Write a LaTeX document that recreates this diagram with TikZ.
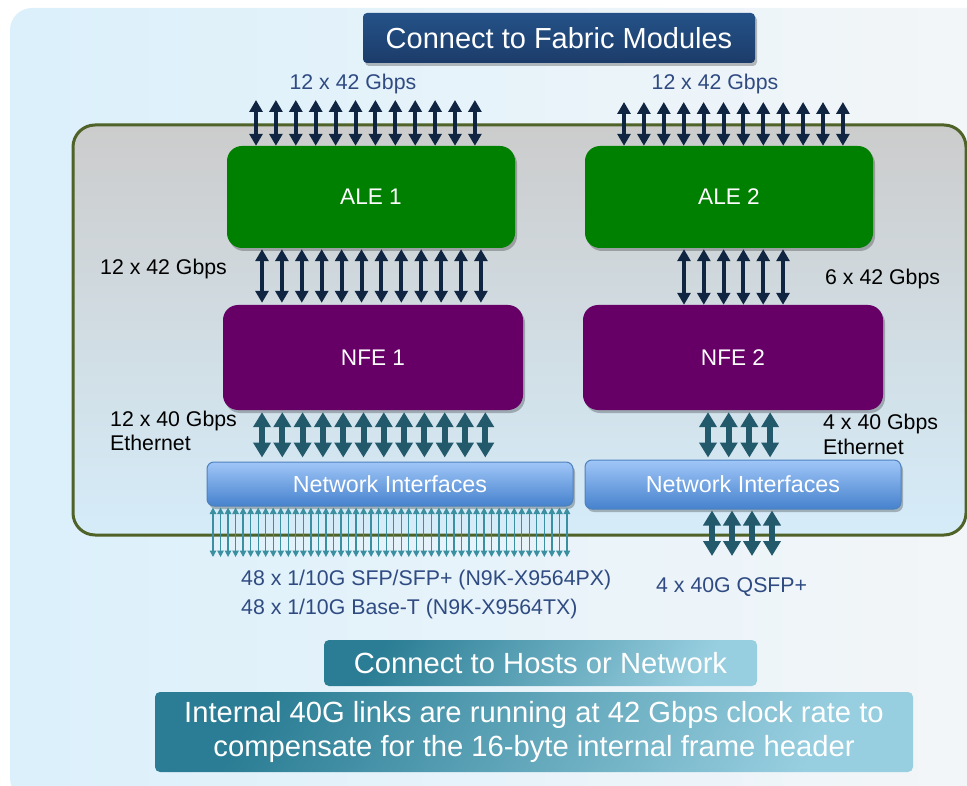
\documentclass[tikz,border=0pt]{standalone}
\usepackage{fontspec}
\setmainfont{Liberation Sans}
\usetikzlibrary{arrows.meta,shadows,calc}
\definecolor{bgleft}{RGB}{219,240,251}
\definecolor{bgright}{RGB}{244,246,248}
\definecolor{olive}{RGB}{79,98,40}
\definecolor{innertop}{RGB}{204,204,204}
\definecolor{innerbot}{RGB}{213,236,249}
\definecolor{bannertop}{RGB}{36,82,136}
\definecolor{bannerbot}{RGB}{28,60,106}
\definecolor{alegreen}{RGB}{0,128,0}
\definecolor{nfepurple}{RGB}{102,0,102}
\definecolor{nitop}{RGB}{160,198,248}
\definecolor{nibot}{RGB}{70,130,205}
\definecolor{niborder}{RGB}{79,129,189}
\definecolor{navyarrow}{RGB}{16,37,66}
\definecolor{tealarrow}{RGB}{35,90,107}
\definecolor{thinarrow}{RGB}{58,143,160}
\definecolor{labelblue}{RGB}{47,75,130}
\definecolor{tealdark}{RGB}{42,125,148}
\definecolor{teallight}{RGB}{152,207,224}
\tikzset{
  boxshadow/.style={drop shadow={shadow xshift=2pt,shadow yshift=-3pt,opacity=0.25,fill=black}},
  chip/.style={rounded corners=15pt,text=white,font=\fontsize{22.6}{26}\selectfont,boxshadow},
  alebox/.style={chip,fill=alegreen,minimum width=288pt,minimum height=102pt},
  nfebox/.style={chip,fill=nfepurple,minimum width=300pt,minimum height=105pt},
  nibox/.style={rounded corners=7pt,draw=niborder,line width=1pt,top color=nitop,bottom color=nibot,text=white,font=\fontsize{23.3}{27}\selectfont,boxshadow},
  banner/.style={rounded corners=4pt,top color=bannertop,bottom color=bannerbot,text=white,font=\fontsize{29}{34}\selectfont,boxshadow},
  tealbox/.style={rounded corners=5pt,left color=tealdark,right color=teallight,shading angle=60,text=white,font=\fontsize{29.2}{34}\selectfont,align=center},
  navyarr/.style={draw=navyarrow,line width=4pt,{Triangle[width=13pt,length=12pt]}-{Triangle[width=13pt,length=12pt]}},
  tealarr/.style={draw=tealarrow,line width=6pt,{Triangle[width=17pt,length=15pt]}-{Triangle[width=17pt,length=15pt]}},
  thinarr/.style={draw=thinarrow,line width=1.3pt,{Triangle[width=6.5pt,length=6.5pt]}-{Triangle[width=6.5pt,length=6.5pt]}},
  bluelabel/.style={text=labelblue,font=\fontsize{21.3}{25}\selectfont,inner sep=0pt},
  blacklabel/.style={text=black,font=\fontsize{21.3}{25}\selectfont,inner sep=0pt,align=left,anchor=west},
}
\begin{document}
\begin{tikzpicture}[x=1pt,y=-1pt]
\useasboundingbox (0,0) rectangle (967,786);
\clip (0,0) rectangle (967,786);
% background panel
\shade[left color=bgleft,right color=bgright,rounded corners=22pt] (10,8) rectangle (1000,800);
% inner module box
\draw[olive,line width=3pt,top color=innertop,bottom color=innerbot,rounded corners=22pt] (73,125) rectangle (966,535);

% banners
\node[banner,minimum width=392pt,minimum height=50pt] (fabric) at (559,38) {Connect to Fabric Modules};
\node[bluelabel] (top1) at (353,84) {12 x 42 Gbps};
\node[bluelabel] (top2) at (715,84) {12 x 42 Gbps};

% chips
\node[alebox] (ale1) at (371,197) {ALE 1};
\node[alebox] (ale2) at (729,197) {ALE 2};
\node[nfebox] (nfe1) at (373,357.5) {NFE 1};
\node[nfebox] (nfe2) at (733,357.5) {NFE 2};
\node[nibox,minimum width=366pt,minimum height=44pt] (ni1) at (390,484) {Network Interfaces};
\node[nibox,minimum width=316pt,minimum height=49pt] (ni2) at (743,484.5) {Network Interfaces};

% arrows to fabric
\foreach \i in {0,...,11}{
  \pgfmathsetmacro\xa{256+\i*19.9}
  \coordinate (fa\i) at (\xa,100);
  \draw[navyarr] (fa\i) -- (\xa,0 |- ale1.north);
  \pgfmathsetmacro\xb{624+\i*19.9}
  \coordinate (fb\i) at (\xb,102);
  \draw[navyarr] (fb\i) -- (\xb,0 |- ale2.north);
}
% ALE - NFE
\foreach \i in {0,...,11}{
  \pgfmathsetmacro\xa{262+\i*19.9}
  \draw[navyarr,shorten <=1pt,shorten >=2pt] (\xa,0 |- ale1.south) -- (\xa,0 |- nfe1.north);
}
\foreach \i in {0,...,5}{
  \pgfmathsetmacro\xa{684+\i*19.8}
  \draw[navyarr,shorten <=1pt,shorten >=0pt] (\xa,0 |- ale2.south) -- (\xa,0 |- nfe2.north);
}
% NFE - NI
\foreach \i in {0,...,11}{
  \pgfmathsetmacro\xa{262+\i*20.3}
  \draw[tealarr,shorten <=2pt,shorten >=4pt] (\xa,0 |- nfe1.south) -- (\xa,0 |- ni1.north);
}
\foreach \i in {0,...,3}{
  \pgfmathsetmacro\xa{708+\i*20.7}
  \draw[tealarr,shorten <=2pt,shorten >=2pt] (\xa,0 |- nfe2.south) -- (\xa,0 |- ni2.north);
}
% NI - outside
\foreach \i in {0,...,47}{
  \pgfmathsetmacro\xa{213+\i*7.53}
  \coordinate (p\i) at (\xa,557);
  \draw[thinarr,shorten <=1pt] (\xa,0 |- ni1.south) -- (p\i);
}
\foreach \i in {0,...,3}{
  \pgfmathsetmacro\xa{712+\i*20}
  \coordinate (q\i) at (\xa,556);
  \draw[tealarr,shorten <=1pt] (\xa,0 |- ni2.south) -- (q\i);
}

% labels
\node[blacklabel] (l1) at (100,269) {12 x 42 Gbps};
\node[blacklabel] (l2) at (825,279) {6 x 42 Gbps};
\node[blacklabel] (l3) at (110,431) {12 x 40 Gbps\\[-1pt]Ethernet};
\node[blacklabel] (l4) at (823,434) {4 x 40 Gbps\\[0pt]Ethernet};
\node[bluelabel,anchor=west] (p1) at (241,580) {48 x 1/10G SFP/SFP+ (N9K-X9564PX)};
\node[bluelabel,anchor=west] (p2) at (241,609) {48 x 1/10G Base-T (N9K-X9564TX)};
\node[bluelabel,anchor=west] (p3) at (656,587) {4 x 40G QSFP+};

% bottom boxes
\node[tealbox,minimum width=433pt,minimum height=46pt] (hosts) at (540.5,663) {Connect to Hosts or Network};
\node[tealbox,minimum width=758pt,minimum height=80pt] (note) at (534,732) {Internal 40G links are running at 42 Gbps clock rate to\\[0pt]compensate for the 16-byte internal frame header};
\end{tikzpicture}
\end{document}
